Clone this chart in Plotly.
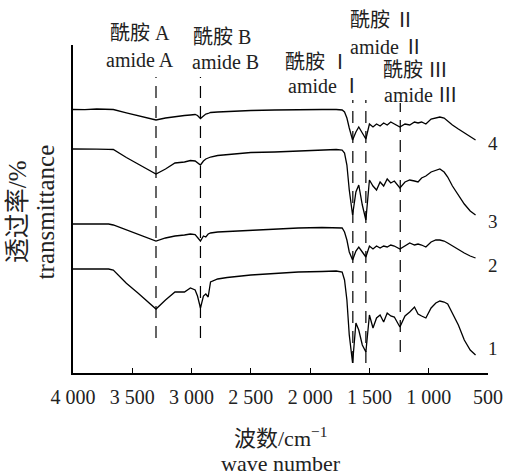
import plotly.graph_objects as go

# Wave numbers (cm^-1)
wavenumber = [4000, 3900, 3800, 3700, 3660, 3550, 3450, 3380, 3300, 3220, 3140, 3060, 3010, 2970,
              2950, 2925, 2900, 2880, 2860, 2840, 2780, 2700, 2600, 2500, 2300, 2100, 1900, 1780,
              1730, 1710, 1690, 1670, 1642, 1614, 1590, 1560, 1530, 1500, 1470, 1440, 1410, 1380,
              1350, 1320, 1290, 1243, 1200, 1160, 1120, 1090, 1060, 1024, 980, 940, 906, 870, 840,
              800, 750, 700, 650, 605]

# Transmittance (arbitrary, vertically offset spectra)
t1 = [104, 104.2, 103.8, 104, 103, 89.7, 79.8, 72.5, 64, 73, 81, 81, 85, 83,
      77, 65, 77, 79, 76, 91, 94, 95.5, 97, 98, 99.5, 101, 101.5, 102,
      101, 93, 73, 38, 10, 50, 43, 28, 21, 58, 45, 55, 58, 51,
      60, 57, 56, 46, 57, 61, 66, 59, 57, 55, 65, 70, 72, 71, 69,
      60, 48, 33, 23, 18]
t2 = [149, 149.2, 148.8, 149, 148, 143, 138.7, 135.7, 132, 135, 137, 138, 139, 138.5,
      136, 132, 137, 136, 139, 140, 141, 141.5, 142, 143, 144, 145, 145.5, 145.5,
      145, 141, 133, 121, 113, 122, 126, 121, 116, 127, 124, 127, 125, 127,
      126, 128, 127, 124, 127, 130, 128, 129, 128, 126, 131, 133, 133, 132, 130,
      127, 123, 120, 117, 115]
t3 = [224, 224.2, 223.8, 223.7, 223.5, 215.5, 209, 204.2, 199, 204, 210, 211, 212.5, 212,
      210, 208, 212, 214, 215, 216, 217.5, 218.5, 220, 220.5, 221, 222, 223, 223.5,
      223, 220, 208, 183, 158, 181, 188, 168, 153, 193, 187, 183, 191, 187,
      194, 190, 192, 185, 191, 193, 192, 191, 195, 197, 201, 203, 204, 201, 196,
      187, 178, 169, 162, 158]
t4 = [263.5, 263.3, 264, 263.5, 263.5, 260.2, 257.3, 255.3, 253, 255, 256.5, 257.5, 258, 258.5,
      257.5, 254.5, 257, 259, 259.5, 260.5, 261, 261.5, 262, 262.5, 263, 263.5, 263.5, 263.5,
      263, 261, 255, 245, 233, 241, 246, 240, 234, 249, 246, 249, 247, 250,
      248, 251, 249, 246, 249, 248, 251, 250, 251, 249, 254, 255.5, 256, 255, 252,
      248, 244, 240, 236, 233]

series = [t1, t2, t3, t4]
series_names = ["1", "2", "3", "4"]
label_y = [25, 108, 151, 230]
label_x = 460

x_range = [4000, 500]
y_range = [0, 328]
x_ticks = [4000, 3500, 3000, 2500, 2000, 1500, 1000, 500]
x_ticklabels = ["4 000", "3 500", "3 000", "2 500", "2 000", "1 500", "1 000", "500"]

# Marked bands
band_pos = [3300, 2925, 1640, 1530, 1240]
band_top = [296, 296, 273, 273, 270]
band_bottom = [35, 35, 10, 10, 21]
band_cn = ["酰胺 A", "酰胺 B", "酰胺 Ⅰ", "酰胺 Ⅱ", "酰胺 Ⅲ"]
band_en = ["amide A", "amide B", "amide Ⅰ", "amide Ⅱ", "amide Ⅲ"]
band_label_x_cn = [3435, 2744, 1935, 1387, 1110]
band_label_x_en = [3435, 2710, 1876, 1350, 1066]
band_label_y_cn = [340, 336, 311, 353, 303]
band_label_y_en = [313, 311, 287, 326, 278]

FONT = "Liberation Serif, Times New Roman, Noto Sans CJK SC, serif"


def px(w):
    # wave number -> paper fraction (reversed axis)
    return (x_range[0] - w) / (x_range[0] - x_range[1])


def py(v):
    return (v - y_range[0]) / (y_range[1] - y_range[0])


fig = go.Figure()
for s, name in zip(series, series_names):
    fig.add_trace(go.Scatter(x=wavenumber, y=s, mode="lines", name=name,
                             line=dict(color="black", width=1.3), showlegend=False))

shapes = []
for xp, yt, yb in zip(band_pos, band_top, band_bottom):
    shapes.append(dict(type="line", xref="x", yref="y", x0=xp, x1=xp, y0=yb, y1=yt,
                       line=dict(color="black", width=1.2, dash="12px,8px")))

ann = []
for xc, yc, txt in zip(band_label_x_cn, band_label_y_cn, band_cn):
    ann.append(dict(x=px(xc), y=py(yc), xref="paper", yref="paper", text=txt, showarrow=False,
                    font=dict(size=20, color="#222"), xanchor="center", yanchor="middle"))
for xc, yc, txt in zip(band_label_x_en, band_label_y_en, band_en):
    ann.append(dict(x=px(xc), y=py(yc), xref="paper", yref="paper", text=txt, showarrow=False,
                    font=dict(size=20, color="#222"), xanchor="center", yanchor="middle"))
for name, ly in zip(series_names, label_y):
    ann.append(dict(x=px(label_x), y=py(ly), xref="paper", yref="paper", text=name, showarrow=False,
                    font=dict(size=19, color="#222"), xanchor="center", yanchor="middle"))

# axis titles
ann.append(dict(x=0.5, y=-0.195, xref="paper", yref="paper", text="波数/cm<sup>−1</sup>",
                showarrow=False, font=dict(size=22, color="#222"), xanchor="center", yanchor="middle"))
ann.append(dict(x=0.5, y=-0.275, xref="paper", yref="paper", text="wave number",
                showarrow=False, font=dict(size=22, color="#222"), xanchor="center", yanchor="middle"))
ann.append(dict(x=-0.132, y=0.491, xref="paper", yref="paper", text="透过率/%", textangle=-90,
                showarrow=False, font=dict(size=25, color="#222"), xanchor="center", yanchor="middle"))
ann.append(dict(x=-0.064, y=0.491, xref="paper", yref="paper", text="transmittance", textangle=-90,
                showarrow=False, font=dict(size=25, color="#222"), xanchor="center", yanchor="middle"))

fig.update_layout(
    template="none",
    width=506, height=475,
    margin=dict(l=73, r=18, t=45, b=102, autoexpand=False),
    paper_bgcolor="white", plot_bgcolor="white",
    font=dict(family=FONT, color="#222"),
    shapes=shapes, annotations=ann,
    xaxis=dict(range=x_range, tickvals=x_ticks, ticktext=x_ticklabels, automargin=False,
               ticks="inside", ticklen=5, tickwidth=1, tickcolor="black",
               ticklabelstandoff=5,
               showline=True, linecolor="black", linewidth=1.5, showgrid=False,
               zeroline=False, tickfont=dict(size=20, family=FONT, color="#222")),
    yaxis=dict(range=y_range, showticklabels=False, ticks="", showline=True, automargin=False,
               linecolor="black", linewidth=1.5, showgrid=False, zeroline=False),
)

fig.write_html("out.html", config={"displayModeBar": False},
               post_script="document.body.style.margin='0';document.body.style.overflow='hidden';")
